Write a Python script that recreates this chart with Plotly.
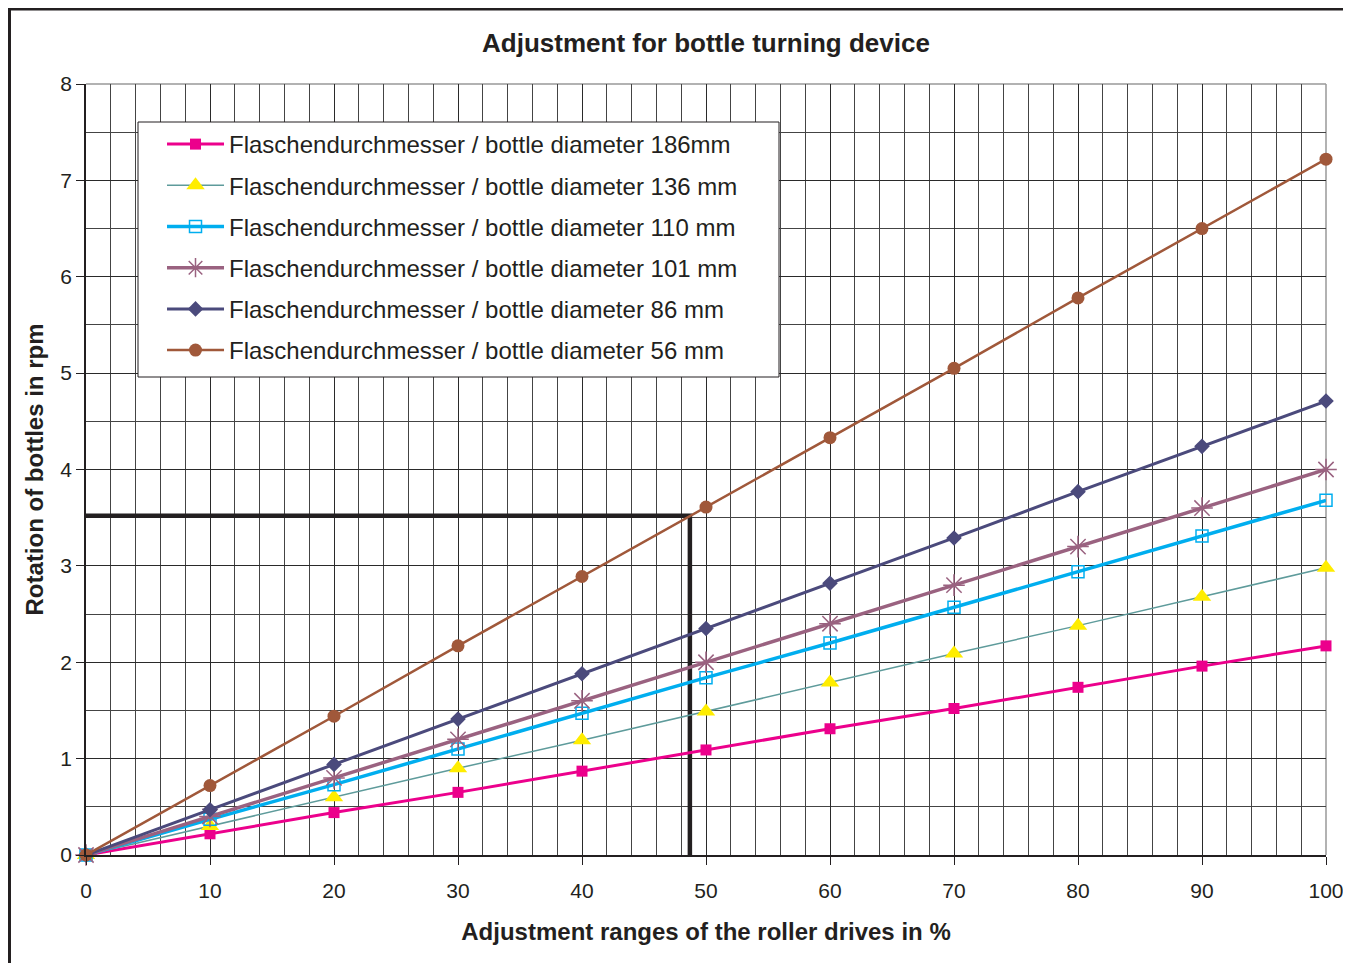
import plotly.graph_objects as go

x_pct = [0, 10, 20, 30, 40, 50, 60, 70, 80, 90, 100]

d186 = [0, 0.22, 0.44, 0.65, 0.87, 1.09, 1.31, 1.52, 1.74, 1.96, 2.17]
d136 = [0, 0.30, 0.60, 0.90, 1.19, 1.49, 1.79, 2.09, 2.38, 2.68, 2.98]
d110 = [0, 0.37, 0.73, 1.10, 1.47, 1.84, 2.20, 2.57, 2.94, 3.31, 3.68]
d101 = [0, 0.40, 0.80, 1.20, 1.60, 2.00, 2.40, 2.80, 3.20, 3.60, 4.00]
d86 = [0, 0.47, 0.94, 1.41, 1.88, 2.35, 2.82, 3.29, 3.77, 4.24, 4.71]
d56 = [0, 0.72, 1.44, 2.17, 2.89, 3.61, 4.33, 5.05, 5.78, 6.50, 7.22]

names = [
    "Flaschendurchmesser / bottle diameter 186mm",
    "Flaschendurchmesser / bottle diameter 136 mm",
    "Flaschendurchmesser / bottle diameter 110 mm",
    "Flaschendurchmesser / bottle diameter 101 mm",
    "Flaschendurchmesser / bottle diameter 86 mm",
    "Flaschendurchmesser / bottle diameter 56 mm",
]

# reading example line
guide_x = [0, 48.7, 48.7]
guide_y = [3.52, 3.52, 0]

FONT = "Liberation Sans, Arial, sans-serif"
INK = "#231F20"

styles = [
    dict(line=dict(color="#EC008C", width=3), marker=dict(symbol="square", size=11, color="#EC008C")),
    dict(line=dict(color="#5E9B9B", width=1.5), marker=dict(symbol="triangle-up", size=16, color="#FFED00")),
    dict(line=dict(color="#00AEEF", width=3.5), marker=dict(symbol="square-open", size=12, color="#00AEEF", line=dict(width=1.5))),
    dict(line=dict(color="#9A6280", width=3.5), marker=dict(symbol="asterisk-open", size=18, color="#9A6280", line=dict(width=1.5, color="#9A6280"))),
    dict(line=dict(color="#4B4A7C", width=3), marker=dict(symbol="diamond", size=12, color="#4B4A7C")),
    dict(line=dict(color="#A0583A", width=2.5), marker=dict(symbol="circle", size=13, color="#A0583A")),
]

series = [d186, d136, d110, d101, d86, d56]

fig = go.Figure()
fig.add_trace(go.Scatter(x=guide_x, y=guide_y, mode="lines",
                         line=dict(color=INK, width=4.5), showlegend=False, hoverinfo="skip"))
for i, (nm, ys, st) in enumerate(zip(names, series, styles)):
    fig.add_trace(go.Scatter(x=x_pct, y=ys, name=nm, mode="lines+markers",
                             legendgroup=f"g{i}", cliponaxis=False, **st))

# figure is offset 8px by the page body margin
fig.update_layout(
    width=1343, height=955,
    margin=dict(l=78, r=25, t=76, b=108),
    paper_bgcolor="white", plot_bgcolor="white",
    font=dict(family=FONT, color=INK, size=21),
    title=dict(text="<b>Adjustment for bottle turning device</b>", x=0.5, xref="paper",
               y=1 - 35 / 955, yanchor="middle", font=dict(size=26, family=FONT, color=INK)),
    showlegend=True,
    legend=dict(x=0.0613, y=0.9507, xanchor="left", yanchor="top",
                bgcolor="rgba(0,0,0,0)", borderwidth=0,
                font=dict(size=24, family=FONT, color=INK),
                tracegroupgap=7, itemwidth=57),
)

fig.update_xaxes(
    range=[0, 100], dtick=10, tick0=0, automargin=False,
    showgrid=True, gridcolor="#2a2a2a", gridwidth=1,
    minor=dict(dtick=2, showgrid=True, gridcolor="#444444", gridwidth=1, ticks=""),
    showline=True, linecolor=INK, linewidth=1.5,
    ticks="outside", ticklen=8, tickcolor=INK, ticklabelstandoff=8,
    tickfont=dict(size=21), zeroline=False,
    title=dict(text="<b>Adjustment ranges of the roller drives in %</b>", font=dict(size=24), standoff=22),
)
fig.update_yaxes(
    range=[0, 8], dtick=1, tick0=0, automargin=False,
    showgrid=True, gridcolor="#2a2a2a", gridwidth=1,
    minor=dict(dtick=0.5, showgrid=True, gridcolor="#444444", gridwidth=1, ticks=""),
    showline=True, linecolor=INK, linewidth=1.5,
    ticks="outside", ticklen=8, tickcolor=INK,
    tickfont=dict(size=21), zeroline=False,
    title=dict(text="<b>Rotation of bottles in rpm</b>", font=dict(size=24), standoff=10),
)

# plot area top/right edges (gray)
fig.add_shape(type="line", xref="paper", yref="paper", x0=0, x1=1, y0=1, y1=1,
              line=dict(color="#999999", width=1.5), layer="below")
fig.add_shape(type="line", xref="paper", yref="paper", x0=1, x1=1, y0=0, y1=1,
              line=dict(color="#999999", width=1.5), layer="below")
# legend box
fig.add_shape(type="rect", xref="paper", yref="paper",
              x0=(130 - 78) / 1240, x1=(771 - 78) / 1240,
              y0=(847 - 369) / 771, y1=(847 - 114) / 771,
              fillcolor="white", line=dict(color=INK, width=1), layer="above")
# outer chart frame
fig.add_shape(type="rect", xref="paper", yref="paper", x0=-0.0617, x1=1.05, y0=-0.2, y1=1.0973,
              line=dict(color=INK, width=3), layer="below")

fig.write_html("out.html")
